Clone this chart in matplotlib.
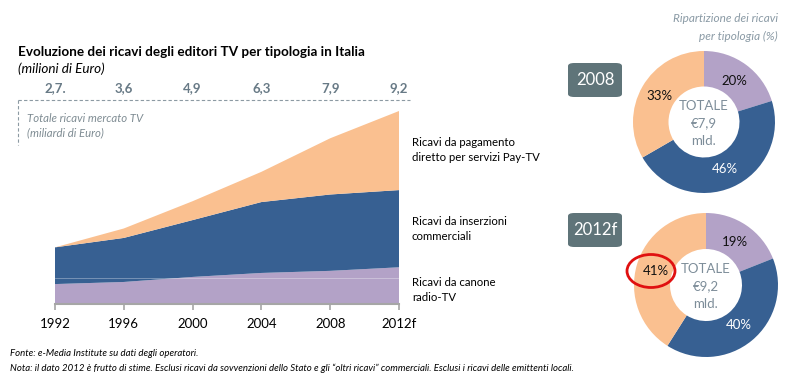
import numpy as np
import matplotlib
matplotlib.use("Agg")
import matplotlib.pyplot as plt
from matplotlib.lines import Line2D
from matplotlib.patches import FancyBboxPatch, Ellipse

plt.rcParams['font.family'] = ['Lato', 'DejaVu Sans']

# dati (milioni di Euro)
anni = ['1992', '1996', '2000', '2004', '2008', '2012f']
canone = [950, 1050, 1290, 1480, 1580, 1750]
inserzioni = [1750, 2100, 2710, 3380, 3640, 3680]
pay_tv = [0, 450, 900, 1440, 2680, 3770]
totali_lbl = ['2,7.', '3,6', '4,9', '6,3', '7,9', '9,2']

torta_2008 = [20, 46, 33]
torta_2012 = [19, 40, 41]
torta_lbl_2008 = ['20%', '46%', '33%']
torta_lbl_2012 = ['19%', '40%', '41%']

c_viola = '#b3a2c7'
c_blu = '#376092'
c_arancio = '#fac090'
c_grigio = '#7d8d99'

W, H = 791, 381
fig = plt.figure(figsize=(W / 100, H / 100), dpi=100)


def fx(px):
    return px / W


def fy(py):
    return 1 - py / H


# --- grafico ad area ---
x0, x1, yb, yt = 55, 399, 304, 100
ax = fig.add_axes([fx(x0), fy(yb), fx(x1) - fx(x0), fy(yt) - fy(yb)])
x = np.arange(len(anni))
ax.stackplot(x, canone, inserzioni, pay_tv,
             colors=[c_viola, c_blu, c_arancio], linewidth=0)
ax.axhline(1250, color='white', lw=0.5, alpha=0.45)
ax.set_xlim(0, len(anni) - 1)
ax.set_ylim(0, 9200 * (yb - yt) / 193)
for s in ['top', 'right', 'left']:
    ax.spines[s].set_visible(False)
ax.spines['bottom'].set_color('#a6a6a6')
ax.spines['bottom'].set_linewidth(1.5)
ax.set_yticks([])
ax.set_xticks(x)
ax.set_xticklabels(anni, fontsize=9.5)
ax.tick_params(axis='x', length=4, color='#a6a6a6', width=1.2, pad=6)
ax.patch.set_alpha(0)

for i, t in enumerate(totali_lbl):
    ax.text(i, 1.03, t, transform=ax.get_xaxis_transform(), ha='center',
            va='bottom', fontsize=9.5, fontweight='bold', color='#687a86')

# linee tratteggiate
fig.add_artist(Line2D([fx(18), fx(410)], [fy(100), fy(100)], color='#8c9aa3',
                      lw=0.8, ls=(0, (3, 2))))
fig.add_artist(Line2D([fx(18), fx(18)], [fy(100), fy(145)], color='#8c9aa3',
                      lw=0.8, ls=(0, (3, 2))))
fig.text(fx(27), fy(118), 'Totale ricavi mercato TV', fontsize=8.2,
         style='italic', color='#7f8c93', va='center')
fig.text(fx(27), fy(133), '(miliardi di Euro)', fontsize=8.2,
         style='italic', color='#7f8c93', va='center')

# titolo
fig.text(fx(18), fy(52), 'Evoluzione dei ricavi degli editori TV per tipologia in Italia',
         fontsize=9.7, fontweight='bold', va='center')
fig.text(fx(18), fy(69), '(milioni di Euro)', fontsize=9.7, style='italic', va='center')

# etichette serie
fig.text(fx(412), fy(150), 'Ricavi da pagamento\ndiretto per servizi Pay-TV',
         fontsize=8.2, va='center', linespacing=1.55)
fig.text(fx(412), fy(229), 'Ricavi da inserzioni\ncommerciali',
         fontsize=8.2, va='center', linespacing=1.55)
fig.text(fx(412), fy(290), 'Ricavi da canone\nradio-TV',
         fontsize=8.2, va='center', linespacing=1.55)

# note
fig.text(fx(10), fy(354), 'Fonte: e-Media Institute su dati degli operatori.',
         fontsize=6.9, style='italic', va='center')
fig.text(fx(10), fy(368), 'Nota: il dato 2012 è frutto di stime. Esclusi ricavi da sovvenzioni '
         'dello Stato e gli \u201coltri ricavi\u201d commerciali. Esclusi i ricavi delle emittenti locali.',
         fontsize=6.9, style='italic', va='center')

fig.text(fx(778), fy(19), 'Ripartizione dei ricavi', fontsize=8.5, style='italic',
         color='#8a9aa5', ha='right', va='center')
fig.text(fx(778), fy(36), 'per tipologia (%)', fontsize=8.5, style='italic',
         color='#8a9aa5', ha='right', va='center')


# --- ciambelle ---
def ciambella(cx, cy, r, valori, etichette, totale, anno, box_y):
    a = fig.add_axes([fx(cx - r), fy(cy + r), fx(2 * r), fy(cy - r) - fy(cy + r)])
    wedges, _ = a.pie(valori, colors=[c_viola, c_blu, c_arancio], startangle=90,
                      counterclock=False, radius=1,
                      wedgeprops=dict(width=0.5, linewidth=0))
    a.set_xlim(-1, 1)
    a.set_ylim(-1, 1)
    a.set_aspect('auto')
    col = ['#111111', 'white', '#111111']
    for w, t, c in zip(wedges, etichette, col):
        ang = np.deg2rad((w.theta1 + w.theta2) / 2)
        a.text(0.72 * np.cos(ang), 0.72 * np.sin(ang), t, ha='center',
               va='center', fontsize=9.5, color=c)
    a.text(0, 0.22, 'TOTALE', ha='center', va='center', fontsize=9.5, color=c_grigio)
    a.text(0, -0.02, totale, ha='center', va='center', fontsize=9.5, color=c_grigio)
    a.text(0, -0.27, 'mld.', ha='center', va='center', fontsize=9.5, color=c_grigio)
    # riquadro anno
    bx0, bx1 = 568, 622
    by0, by1 = box_y, box_y + 34
    fig.add_artist(FancyBboxPatch((fx(bx0), fy(by1)), fx(bx1 - bx0), fy(by0) - fy(by1),
                                  boxstyle='round,pad=0,rounding_size=0.008',
                                  transform=fig.transFigure, facecolor='#5f7479',
                                  edgecolor='none'))
    fig.text(fx((bx0 + bx1) / 2), fy((by0 + by1) / 2), anno, color='white',
             fontsize=12, ha='center', va='center')
    return a


ciambella(704, 122, 71, torta_2008, torta_lbl_2008, '€7,9', '2008', 63)
ciambella(706, 285, 72, torta_2012, torta_lbl_2012, '€9,2', '2012f', 213)

fig.add_artist(Ellipse((fx(651), fy(271)), fx(48), fy(255) - fy(288),
                       transform=fig.transFigure, facecolor='none',
                       edgecolor='#e01010', lw=2))

fig.savefig('out.png', dpi=100)
